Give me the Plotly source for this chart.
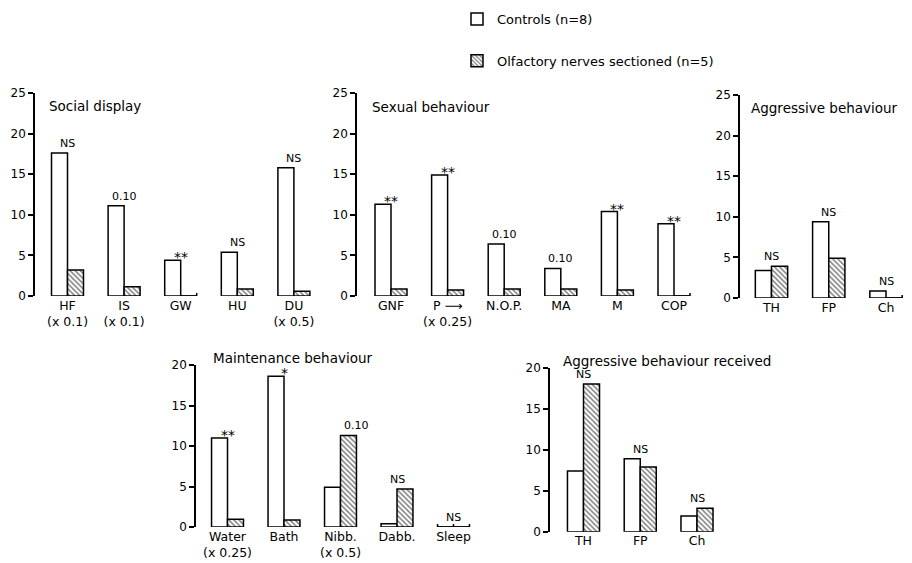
import plotly.graph_objects as go

# The page body has an 8px margin, so the figure is drawn 8px in from the window edge.
OFF = 8
W, H = 912 - OFF, 563 - OFF

# ---------------- data ----------------
social_cats = ["HF", "IS", "GW", "HU", "DU"]
social_labels = ["HF<br>(x 0.1)", "IS<br>(x 0.1)", "GW", "HU", "DU<br>(x 0.5)"]
social_ctrl = [17.6, 11.1, 4.4, 5.4, 15.8]
social_olf = [3.2, 1.15, 0, 0.85, 0.6]
social_sig = ["NS", "0.10", "**", "NS", "NS"]

sexual_cats = ["GNF", "P", "N.O.P.", "MA", "M", "COP"]
sexual_labels = ["GNF", "P ⟶<br>(x 0.25)", "N.O.P.", "MA", "M", "COP"]
sexual_ctrl = [11.3, 14.9, 6.4, 3.4, 10.4, 8.9]
sexual_olf = [0.85, 0.75, 0.85, 0.85, 0.75, 0]
sexual_sig = ["**", "**", "0.10", "0.10", "**", "**"]

aggr_cats = ["TH", "FP", "Ch"]
aggr_labels = ["TH", "FP", "Ch"]
aggr_ctrl = [3.4, 9.4, 0.85]
aggr_olf = [3.9, 4.9, 0]
aggr_sig = ["NS", "NS", "NS"]

maint_cats = ["Water", "Bath", "Nibb.", "Dabb.", "Sleep"]
maint_labels = ["Water<br>(x 0.25)", "Bath", "Nibb.<br>(x 0.5)", "Dabb.", "Sleep"]
maint_ctrl = [11.0, 18.6, 4.9, 0.4, 0]
maint_olf = [0.95, 0.85, 11.3, 4.7, 0]
maint_sig = ["**", "*", "0.10", "NS", "NS"]

recv_cats = ["TH", "FP", "Ch"]
recv_labels = ["TH", "FP", "Ch"]
recv_ctrl = [7.4, 8.9, 1.9]
recv_olf = [18.0, 7.9, 2.85]
recv_sig = ["NS", "NS", "NS"]

# ---------------- layout geometry (window pixels) ----------------
FONT = "DejaVu Sans"
BARGAP = 0.435
panels = [
    dict(title="Social display", cats=social_cats, labels=social_labels, ctrl=social_ctrl,
         olf=social_olf, sig=social_sig, px=(35, 325), py=(93, 296), ymax=25,
         c0=67.5, s=56.6, txy=(49, 106)),
    dict(title="Sexual behaviour", cats=sexual_cats, labels=sexual_labels, ctrl=sexual_ctrl,
         olf=sexual_olf, sig=sexual_sig, px=(357, 700), py=(93, 296), ymax=25,
         c0=391, s=56.6, txy=(372, 107)),
    dict(title="Aggressive behaviour", cats=aggr_cats, labels=aggr_labels, ctrl=aggr_ctrl,
         olf=aggr_olf, sig=aggr_sig, px=(740, 912), py=(95, 298), ymax=25,
         c0=771.5, s=57.25, txy=(751, 108)),
    dict(title="Maintenance behaviour", cats=maint_cats, labels=maint_labels, ctrl=maint_ctrl,
         olf=maint_olf, sig=maint_sig, px=(196, 480), py=(365, 527), ymax=20,
         c0=227.5, s=56.5, txy=(213, 358)),
    dict(title="Aggressive behaviour received", cats=recv_cats, labels=recv_labels,
         ctrl=recv_ctrl, olf=recv_olf, sig=recv_sig, px=(550, 740), py=(367.7, 531.7),
         ymax=20, c0=583.5, s=56.75, txy=(563, 361)),
]


def fx(px):
    return (px - OFF) / W


def fy(py):
    return 1 - (py - OFF) / H


fig = go.Figure()
layout = dict(
    width=W, height=H, autosize=False,
    margin=dict(l=0, r=0, t=0, b=0, pad=0, autoexpand=False),
    paper_bgcolor="white", plot_bgcolor="rgba(0,0,0,0)",
    barmode="group", bargap=BARGAP, bargroupgap=0,
    font=dict(family=FONT, size=12, color="black"),
    showlegend=True,
    legend=dict(x=fx(457), y=fy(4), xanchor="left", yanchor="top",
                font=dict(family=FONT, size=13), tracegroupgap=22,
                bgcolor="rgba(0,0,0,0)"),
)
annotations = []
shapes = []
w = (1 - BARGAP) / 2

for k, p in enumerate(panels, start=1):
    sfx = "" if k == 1 else str(k)
    xa, ya = "x" + sfx, "y" + sfx
    fig.add_trace(go.Bar(
        x=p["cats"], y=p["ctrl"], xaxis=xa, yaxis=ya, name="Controls (n=8)",
        legendgroup="c", showlegend=(k == 1),
        marker=dict(color="white", line=dict(color="black", width=1.5))))
    fig.add_trace(go.Bar(
        x=p["cats"], y=p["olf"], xaxis=xa, yaxis=ya,
        name="Olfactory nerves sectioned (n=5)", legendgroup="o", showlegend=(k == 1),
        marker=dict(color="white", line=dict(color="black", width=1.5),
                    pattern=dict(shape="\\", fgcolor="black", bgcolor="white",
                                 size=3.6, solidity=0.42))))
    x0, x1 = p["px"]
    ytop, ybot = p["py"]
    layout["xaxis" + sfx] = dict(
        domain=[fx(x0), min(fx(x1), 1)], anchor=ya, type="category",
        range=[(x0 - p["c0"]) / p["s"], (x1 - p["c0"]) / p["s"]],
        tickvals=p["cats"], ticktext=p["labels"], ticks="",
        showline=False, showgrid=False, zeroline=False, automargin=False,
        tickfont=dict(family=FONT, size=12.5), fixedrange=True)
    layout["yaxis" + sfx] = dict(
        domain=[fy(ybot), fy(ytop)], anchor=xa, range=[0, p["ymax"]],
        tickvals=list(range(0, p["ymax"] + 1, 5)), ticks="outside", ticklen=5,
        tickwidth=1.5, tickcolor="black", showline=True, linecolor="black",
        linewidth=1.5, showgrid=False, zeroline=False, automargin=False,
        tickfont=dict(family=FONT, size=12), fixedrange=True)
    annotations.append(dict(
        text=p["title"], xref="paper", yref="paper", x=fx(p["txy"][0] - 2),
        y=fy(p["txy"][1]), xanchor="left", yanchor="middle", showarrow=False,
        font=dict(family=FONT, size=13.5)))
    ppu = (ybot - ytop) / p["ymax"]
    tick = 3 / ppu
    for i, (c, o, sg) in enumerate(zip(p["ctrl"], p["olf"], p["sig"])):
        xs = 0
        if sg == "0.10" and o > c:
            xs = 16
        star = "*" in sg
        annotations.append(dict(
            text=sg, x=p["cats"][i], y=max(c, o), xref=xa, yref=ya,
            xanchor="center", yanchor="bottom", yshift=(-7 if star else 1), xshift=xs,
            showarrow=False, font=dict(family=FONT, size=(14 if star else 11))))
        line = dict(color="black", width=1.5)
        if o == 0 and c == 0:
            shapes.append(dict(type="line", xref=xa, yref=ya, x0=i - w, x1=i + w,
                               y0=0, y1=0, line=line))
            for xx in (i - w, i, i + w):
                shapes.append(dict(type="line", xref=xa, yref=ya, x0=xx, x1=xx,
                                   y0=0, y1=tick, line=line))
        elif o == 0:
            shapes.append(dict(type="line", xref=xa, yref=ya, x0=i, x1=i + w,
                               y0=0, y1=0, line=line))
            shapes.append(dict(type="line", xref=xa, yref=ya, x0=i + w, x1=i + w,
                               y0=0, y1=tick, line=line))

layout["annotations"] = annotations
layout["shapes"] = shapes
fig.update_layout(**layout)
fig.write_html("out.html")
